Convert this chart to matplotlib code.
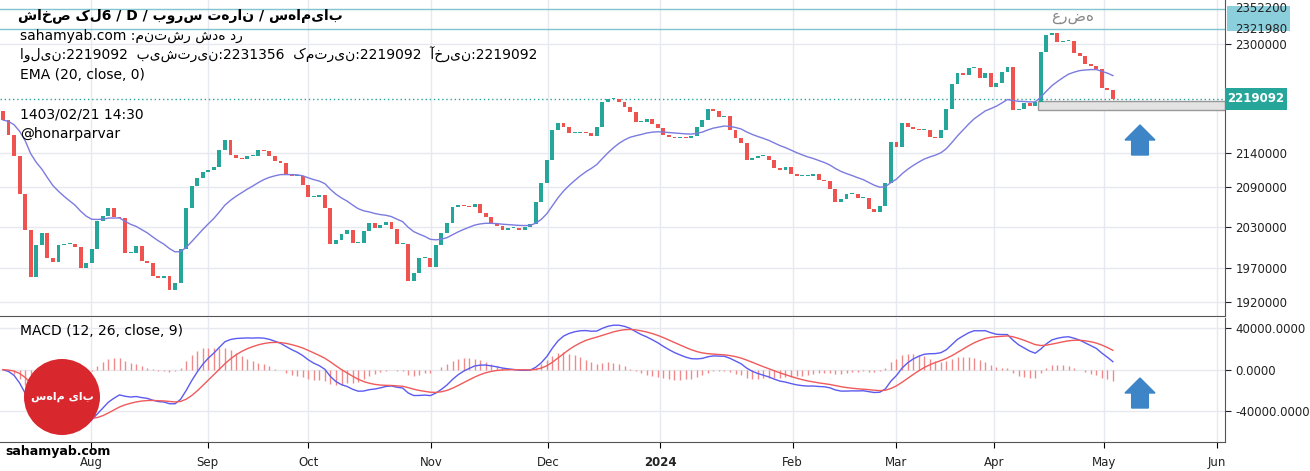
import numpy as np
import pandas as pd
import matplotlib
matplotlib.use("Agg")
import matplotlib.pyplot as plt
from matplotlib.patches import Rectangle, Ellipse, FancyArrow

# closing values (thousands), one per trading day
closes_k = [2188.0,2165.9,2135.0,2079.0,2026.0,1956.8,2003.9,2021.6,1984.8,1978.9,
 2003.9,2005.4,2005.4,2001.0,1970.0,1977.4,1998.0,2039.3,2046.6,2058.4,
 2045.2,2043.7,1992.1,1992.1,2002.4,1980.4,1977.4,1958.3,1955.3,1958.3,
 1937.6,1947.9,1998.0,2058.4,2090.8,2102.6,2111.4,2114.4,2118.8,2143.8,
 2158.6,2136.5,2132.1,2130.6,2135.0,2135.0,2143.8,2142.4,2135.0,2127.6,
 2124.7,2108.5,2105.5,2105.5,2092.3,2074.6,2074.6,2077.6,2058.4,2005.4,
 2011.3,2020.1,2026.0,2006.9,2006.9,2024.5,2036.3,2028.9,2033.4,2037.8,
 2027.5,2005.4,2005.4,1950.9,1962.7,1984.8,1984.8,1971.5,2003.9,2021.6,
 2036.3,2059.9,2062.8,2061.4,2059.9,2064.3,2051.1,2045.2,2034.8,2031.9,
 2026.0,2028.9,2028.9,2026.0,2030.4,2034.8,2067.3,2095.2,2129.1,2173.3,
 2183.6,2177.7,2168.9,2168.9,2170.4,2168.9,2164.5,2177.7,2214.6,2219.0,
 2219.0,2214.6,2207.2,2199.8,2185.1,2185.1,2189.5,2182.1,2176.3,2165.9,
 2163.0,2161.5,2163.0,2161.5,2164.5,2177.7,2188.0,2204.2,2201.3,2192.5,
 2194.0,2173.3,2161.5,2154.2,2129.1,2132.1,2135.0,2135.0,2129.1,2117.3,
 2114.4,2118.8,2108.5,2105.5,2105.5,2105.5,2108.5,2099.7,2098.2,2086.4,
 2067.3,2071.7,2079.0,2079.0,2073.1,2073.1,2057.0,2052.5,2061.4,2095.2,
 2155.6,2148.3,2183.6,2177.7,2174.8,2173.3,2173.3,2163.0,2161.5,2173.3,
 2204.2,2241.1,2257.3,2254.3,2264.6,2264.6,2249.9,2257.3,2236.6,2242.5,
 2258.7,2266.1,2202.8,2204.2,2213.1,2208.7,2214.6,2288.2,2313.3,2316.2,
 2303.0,2304.4,2304.4,2286.7,2282.3,2270.5,2267.6,2263.2,2235.2,2232.0,
 2219.092]
closes = np.array(closes_k) * 1000.0
opens = np.concatenate([[2202000.0], closes[:-1]])

month_labels = ["Aug","Sep","Oct","Nov","Dec","2024","Feb","Mar","Apr","May","Jun"]
month_pos = [15.9,36.9,55.0,77.1,98.2,118.4,142.3,160.9,178.6,198.4,218.7]
price_ticks = [2300000,2140000,2090000,2030000,1970000,1920000]
level_lines = [2352200,2321980]
last_price = 2219092
macd_ticks = [40000,0,-40000]

GREEN = "#26a69a"; RED = "#ef5350"; GRID = "#e6e9ef"

s = pd.Series(closes)
ema20 = s.ewm(span=20, adjust=False).mean()
macd = s.ewm(span=12, adjust=False).mean() - s.ewm(span=26, adjust=False).mean()
signal = macd.ewm(span=9, adjust=False).mean()
hist = macd - signal

fig = plt.figure(figsize=(13.1, 4.71), dpi=100)
ax = fig.add_axes([0, 1-316/471, 1225/1310, 316/471])
ax2 = fig.add_axes([0, 1-442/471, 1225/1310, 124/471], sharex=ax)
n = len(closes)
idx = np.arange(n)
xmin, xmax = -0.54, 220.2

for a in (ax, ax2):
    a.set_xlim(xmin, xmax)
    for m in month_pos:
        a.axvline(m, color=GRID, lw=1, zorder=0)
    a.yaxis.tick_right()
    for sp in ["top","left"]:
        a.spines[sp].set_visible(False)
    a.spines["right"].set_color("#555555")
    a.spines["bottom"].set_color("#555555")
    a.tick_params(axis="y", labelsize=8.5, colors="#222222", length=4)

ylo = 2300000 - (316-44)*1473
yhi = 2300000 + 44*1473
ax.set_ylim(ylo, yhi)
ax.set_yticks(price_ticks)
ax.set_yticklabels([str(t) for t in price_ticks])
for t in price_ticks:
    ax.axhline(t, color=GRID, lw=1, zorder=0)
ax.tick_params(axis="x", length=0, labelbottom=False)

w = 0.7
for i in idx:
    o, c = opens[i], closes[i]
    col = GREEN if c >= o else RED
    h = abs(c - o)
    if h < 1500: h = 1500
    ax.add_patch(Rectangle((i - w/2, min(o, c)), w, h, color=col, lw=0, zorder=3))
ax.plot(idx, ema20, color="#7b7be0", lw=1, zorder=4)

for lv in level_lines:
    ax.axhline(lv, color="#7fc4cf", lw=1, zorder=2)
ax.axhline(last_price, color=GREEN, lw=1, ls=(0,(1,2)), zorder=2)
ax.add_patch(Rectangle((186.5, 2202600), xmax-186.5, 13400, facecolor="#e3e3e3",
                       edgecolor="#999999", lw=1, zorder=2))

# right side labels
ax.add_patch(Rectangle((1.002, (2318500-ylo)/(yhi-ylo)), 63/1225, 37000/(yhi-ylo),
                       transform=ax.transAxes, facecolor="#8ccfdc", edgecolor="none",
                       clip_on=False, zorder=5))
for lv in level_lines:
    ax.text(1.008, (lv-ylo)/(yhi-ylo), str(lv), transform=ax.transAxes, fontsize=8.5,
            va="center", ha="left", color="#222222", zorder=6, clip_on=False)
ax.add_patch(Rectangle((1.0, (last_price-ylo)/(yhi-ylo) - 11/316), 62/1225, 22/316,
                       transform=ax.transAxes, facecolor=GREEN, edgecolor="none",
                       clip_on=False, zorder=5))
ax.text(1.0 + 31/1225, (last_price-ylo)/(yhi-ylo), str(last_price), transform=ax.transAxes,
        ha="center", va="center", color="white", fontsize=8.5, fontweight="bold", zorder=6)

H = 471
def ftext(x, y, s, **kw):
    fig.text(x/1310, 1-y/H, s, va="center", **kw)

ftext(1073, 17, "عرضه", fontsize=11, color="#888888", ha="center")

ax2.set_ylim(-70000, 50000)
ax2.set_yticks(macd_ticks)
ax2.set_yticklabels(["40000.0000","0.0000","-40000.0000"])
for t in macd_ticks:
    ax2.axhline(t, color=GRID, lw=1, zorder=0)
ax2.vlines(idx, 0, hist, color="#f08a8a", lw=1, zorder=2)
ax2.plot(idx, macd, color="#5b5bf0", lw=1, zorder=3)
ax2.plot(idx, signal, color="#f05a5a", lw=1, zorder=3)
ax2.set_xticks(month_pos)
ax2.set_xticklabels(month_labels, fontsize=8.5, color="#222222")
ax2.get_xticklabels()[5].set_fontweight("bold")
ax2.tick_params(axis="x", length=4, pad=6)

ftext(18, 16, "شاخص کل6 / D / بورس تهران / سهامیاب", fontsize=10, fontweight="bold", family="DejaVu Sans")
ftext(20, 36, "sahamyab.com :منتشر شده در", fontsize=10, family="DejaVu Sans")
ftext(20, 55, "اولین:2219092  بیشترین:2231356  کمترین:2219092  آخرین:2219092", fontsize=10, family="DejaVu Sans")
ftext(20, 75, "EMA (20, close, 0)", fontsize=10)
ftext(20, 115, "1403/02/21 14:30", fontsize=10)
ftext(20, 134, "@honarparvar", fontsize=10)
ftext(20, 331, "MACD (12, 26, close, 9)", fontsize=10)
ftext(5, 451, "sahamyab.com", fontsize=9, fontweight="bold")

# logo
fig.patches.append(Ellipse((62/1310, 1-397/H), 76/1310, 76/H, transform=fig.transFigure,
                           facecolor="#d9272e", edgecolor="none", zorder=10))
fig.text(62/1310, 1-397/H, "سهام یاب", ha="center", va="center", color="white",
         fontsize=8, fontweight="bold", zorder=11)

# arrows
for (xa, ya) in [(1140, 155), (1140, 408)]:
    fig.patches.append(FancyArrow(xa/1310, 1-ya/H, 0, 30/H, width=6/H, head_width=30/1310,
                                  head_length=15/H, transform=fig.transFigure,
                                  color="#3d85c6", length_includes_head=True))

fig.savefig("out.png", dpi=100)
